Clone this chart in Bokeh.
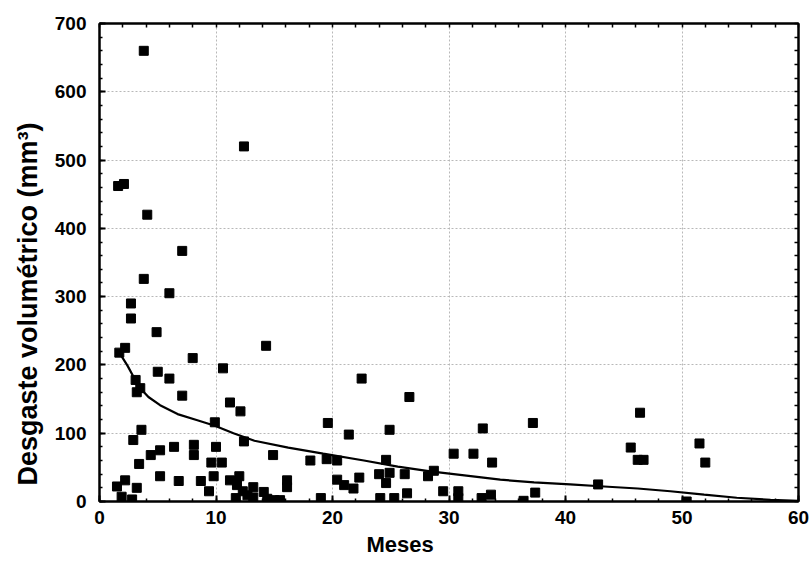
from bokeh.plotting import figure
from bokeh.models import Range1d, SingleIntervalTicker, FixedTicker, LinearAxis, ColumnDataSource, Title
from bokeh.embed import file_html
from bokeh.resources import INLINE

# Data
meses = [3.8, 12.4, 1.6, 2.1, 4.1, 7.1, 3.8, 6.0, 2.7, 2.7, 4.9, 14.3, 2.2, 1.7, 8.0,
         10.6, 5.0, 6.0, 3.1, 3.5, 3.2, 7.1, 11.2, 12.1, 9.9, 19.6, 3.6, 2.9, 12.4, 8.1,
         10.0, 6.4, 5.2, 4.4, 8.1, 14.9, 3.4, 9.6, 10.5, 18.1, 19.5, 20.4, 5.2, 2.2, 1.5,
         3.2, 6.8, 8.7, 9.8, 9.4, 11.2, 12.0, 11.8, 16.1, 16.1, 20.4, 1.9, 2.8, 11.7, 12.3,
         12.7, 13.2, 13.2, 14.1, 14.4, 15.0, 15.5, 19.0, 21.4, 21.0, 21.8, 22.3, 22.5, 26.6,
         24.9, 24.6, 24.9, 24.0, 24.6, 26.2, 26.4, 24.1, 25.3, 28.2, 28.7, 29.5, 30.4, 32.1,
         30.8, 30.8, 32.9, 33.7, 32.8, 33.6, 37.2, 37.4, 36.4, 42.8, 46.4, 45.6, 46.2, 46.7,
         51.5, 52.0, 50.4]
desgaste = [660, 520, 462, 465, 420, 367, 326, 305, 290, 268, 248, 228, 225, 218, 210,
            195, 190, 180, 178, 166, 160, 155, 145, 132, 116, 115, 105, 90, 88, 83,
            80, 80, 75, 68, 68, 68, 55, 57, 57, 60, 62, 60, 37, 31, 22,
            20, 30, 30, 37, 15, 31, 37, 24, 31, 21, 32, 7, 3, 5, 15,
            9, 21, 6, 14, 4, 2, 2, 5, 98, 24, 19, 35, 180, 153,
            105, 61, 42, 40, 27, 40, 12, 5, 5, 37, 45, 15, 70, 70,
            15, 5, 107, 57, 5, 10, 115, 13, 1, 25, 130, 79, 61, 61,
            85, 57, 0]

# Fitted curve
curva_x = [1.7, 2.4, 3.0, 3.5, 4.2, 5.2, 6.7, 8.4, 9.9, 11.5, 13.3, 16.2, 19.2, 22.7,
           25.6, 28.4, 31.5, 34.4, 37.3, 40.4, 43.3, 46.2, 49.0, 51.9, 54.7, 57.6, 60.0]
curva_y = [218, 199, 180, 166, 153, 141, 128, 119, 111, 100, 89, 79, 70, 60,
           51, 44, 38, 32, 28, 25, 22, 19, 15, 10, 5.5, 2.5, 1]

x_label = "Meses"
y_label = "Desgaste volumétrico (mm³)"

FONT = "Liberation Sans"

p = figure(frame_width=699, frame_height=478,
           min_border_left=99, min_border_right=13, min_border_top=23, min_border_bottom=62,
           x_range=Range1d(0, 60), y_range=Range1d(0, 700),
           output_backend="svg", toolbar_location=None,
           background_fill_color="white", border_fill_color="white")

p.outline_line_color = "black"
p.outline_line_width = 2

p.xaxis.ticker = SingleIntervalTicker(interval=10, num_minor_ticks=5)
p.yaxis.ticker = SingleIntervalTicker(interval=100, num_minor_ticks=5)

for ax in (p.xaxis[0], p.yaxis[0]):
    ax.major_tick_in = 6
    ax.major_tick_out = 0
    ax.minor_tick_in = 3
    ax.minor_tick_out = 0
    ax.axis_line_color = "black"
    ax.axis_line_width = 2
    ax.major_tick_line_color = "black"
    ax.major_tick_line_width = 2
    ax.minor_tick_line_color = "black"
    ax.minor_tick_line_width = 1.5
    ax.major_label_text_font = FONT
    ax.major_label_text_font_style = "bold"
    ax.major_label_text_font_size = "19px"
    ax.major_label_text_color = "black"

p.xaxis.major_label_standoff = 9
p.yaxis.major_label_standoff = 13

# top and right tick rows (no labels)
for loc, step, top in (("above", 2, 60), ("right", 20, 700)):
    a = LinearAxis(ticker=FixedTicker(ticks=[], minor_ticks=list(range(0, top + 1, step))))
    a.minor_tick_in = 4
    a.minor_tick_out = 0
    a.major_tick_in = 0
    a.major_tick_out = 0
    a.minor_tick_line_width = 1.5
    a.minor_tick_line_color = "black"
    a.axis_line_width = 2
    a.axis_line_color = "black"
    p.add_layout(a, loc)

# axis titles
tx = Title(text=x_label, align="left", offset=267, standoff=6,
           text_font=FONT, text_font_style="bold", text_font_size="22px", text_color="black")
p.add_layout(tx, "below")
ty = Title(text=y_label, align="left", offset=16, standoff=17,
           text_font=FONT, text_font_style="bold", text_font_size="27px", text_color="black")
p.add_layout(ty, "left")

p.grid.grid_line_color = "#b8b8b8"
p.grid.grid_line_dash = "2 2"
p.grid.grid_line_width = 1

p.line(curva_x, curva_y, line_color="black", line_width=2.2)
src = ColumnDataSource(dict(x=meses, y=desgaste))
p.scatter("x", "y", source=src, marker="square", size=9, fill_color="black", line_color="black")

open("out.html", "w").write(file_html(p, INLINE))
